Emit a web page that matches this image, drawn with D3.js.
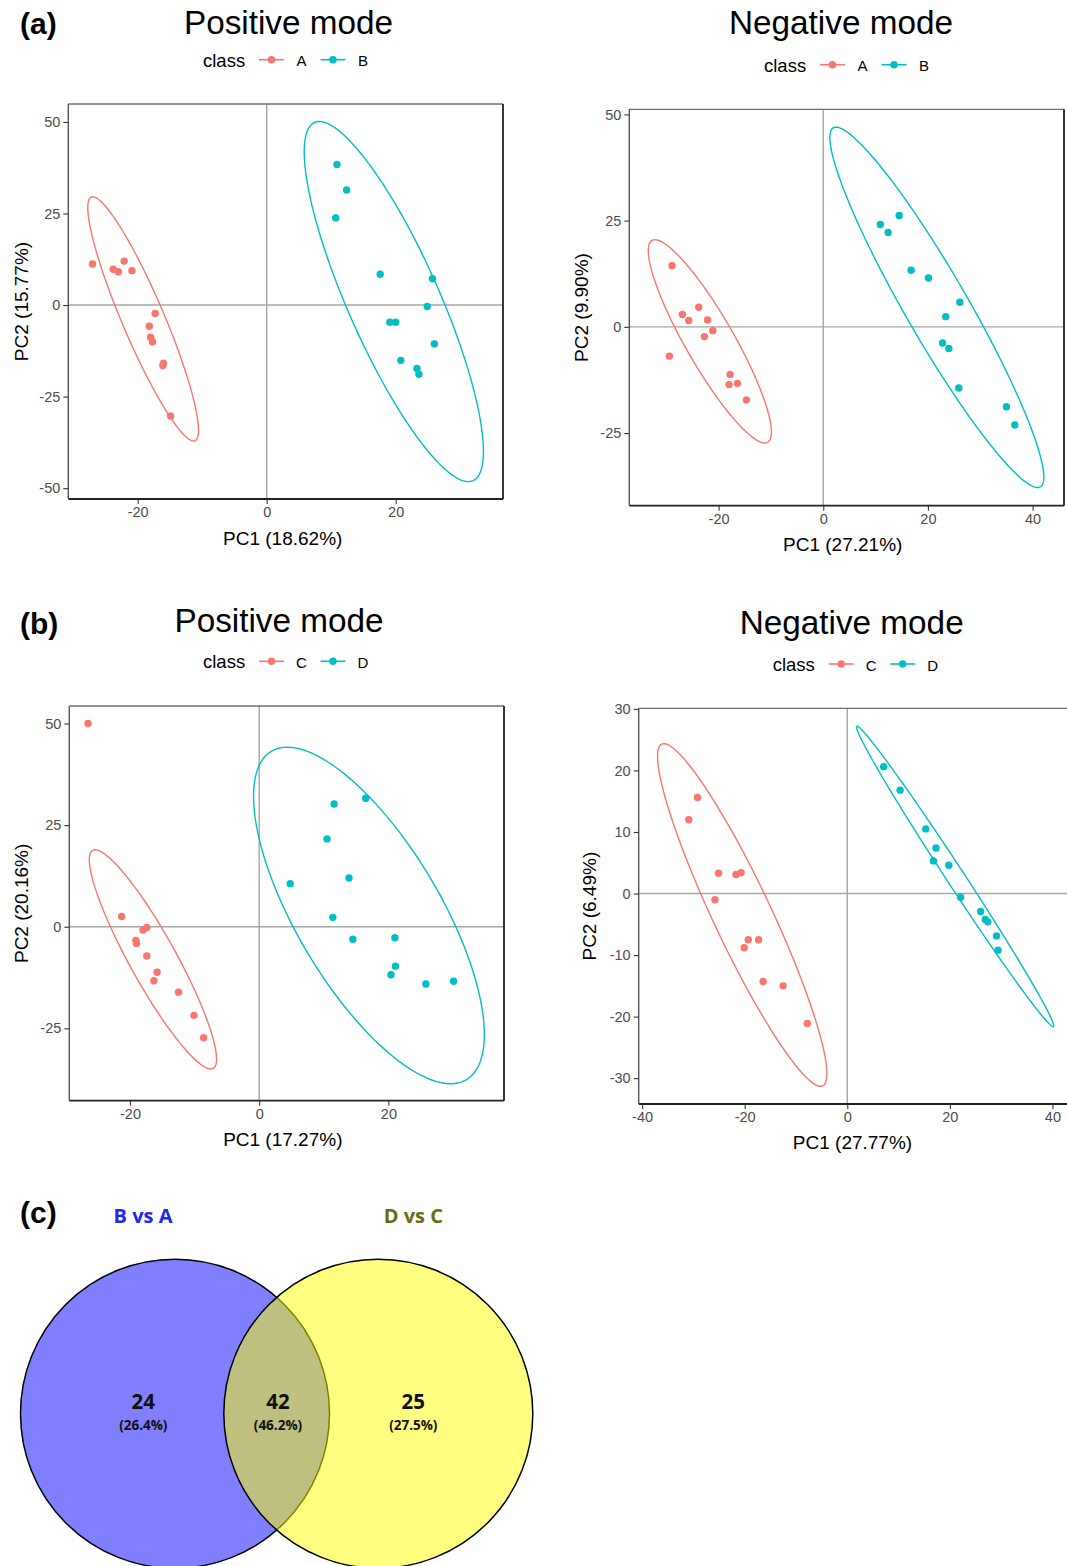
<!DOCTYPE html>
<html>
<head>
<meta charset="utf-8">
<script src="https://cdn.jsdelivr.net/npm/d3@7"></script>
<style>
body { margin: 0; background: #fff; }
text { font-family: "Liberation Sans", Arial, sans-serif; }
</style>
</head>
<body>
<div id="graph"></div>
<script>
var w = 1067, h = 1566;

// (a) positive mode, PC1 / PC2 scores
var posA = [[-27.0,11.2],[-23.8,9.8],[-23.0,9.1],[-22.1,12.0],[-20.9,9.4],[-17.3,-2.3],
	[-18.2,-5.8],[-18.0,-8.8],[-17.7,-10.0],[-16.0,-15.9],[-16.1,-16.5],[-14.9,-30.3]];
var posB = [[10.9,38.4],[12.4,31.4],[10.7,23.8],[17.6,8.4],[25.7,7.2],[24.9,-0.4],
	[19.1,-4.7],[20.0,-4.7],[26.0,-10.6],[20.8,-15.1],[23.3,-17.3],[23.6,-18.9]];
// (a) negative mode
var negA = [[-28.9,14.4],[-26.9,2.9],[-25.7,1.5],[-23.8,4.6],[-22.1,1.6],[-21.1,-0.9],
	[-22.7,-2.3],[-29.4,-6.9],[-17.8,-11.2],[-18.0,-13.6],[-16.4,-13.3],[-14.7,-17.2]];
var negB = [[10.9,24.1],[12.4,22.2],[14.5,26.2],[16.8,13.3],[20.1,11.5],[26.1,5.8],
	[23.4,2.4],[22.8,-3.8],[24.0,-5.1],[25.9,-14.4],[35.0,-18.8],[36.6,-23.1]];
// (b) positive mode
var posC = [[-26.5,50.0],[-21.3,2.5],[-18.0,-0.8],[-17.4,-0.2],[-19.1,-3.4],[-19.0,-4.1],
	[-17.4,-7.2],[-15.8,-11.2],[-16.3,-13.3],[-12.5,-16.1],[-10.1,-21.8],[-8.6,-27.3]];
var posD = [[11.6,30.2],[16.5,31.6],[10.5,21.6],[4.8,10.6],[13.9,12.0],[11.4,2.3],
	[14.5,-3.1],[21.0,-2.7],[21.1,-9.7],[20.4,-11.8],[25.8,-14.1],[30.1,-13.4]];
// (b) negative mode
var negC = [[-29.2,15.6],[-30.9,12.0],[-25.1,3.3],[-21.7,3.1],[-20.7,3.4],[-25.8,-1.0],
	[-19.3,-7.5],[-17.3,-7.5],[-20.1,-8.8],[-16.4,-14.3],[-12.5,-15.0],[-7.8,-21.1]];
var negD = [[7.1,20.6],[10.3,16.8],[15.3,10.5],[17.3,7.4],[16.8,5.3],[19.8,4.6],
	[22.1,-0.6],[26.0,-2.9],[26.9,-4.2],[27.4,-4.6],[29.1,-6.9],[29.4,-9.2]];

var ticksA1x = [-20, 0, 20], ticksA1y = [-50, -25, 0, 25, 50];
var ticksA2x = [-20, 0, 20, 40], ticksA2y = [-25, 0, 25, 50];
var ticksB1x = [-20, 0, 20], ticksB1y = [-25, 0, 25, 50];
var ticksB2x = [-40, -20, 0, 20, 40], ticksB2y = [-30, -20, -10, 0, 10, 20, 30];

// (c) venn
var vennNames = ["B vs A", "D vs C"];
var vennCounts = [24, 42, 25];

var red = "#F8766D", teal = "#00BFC4";

var svg = d3.select("#graph")
	.append("svg")
	.attr("width", w)
	.attr("height", h);

// robust t covariance like MASS::cov.trob, used by stat_ellipse
function covTrob(pts) {
	var n = pts.length, nu = 5, p = 2;
	var loc = [d3.mean(pts, function(d) { return d[0]; }), d3.mean(pts, function(d) { return d[1]; })];
	var wt = pts.map(function() { return 1; });
	var X;
	for (var it = 0; it < 25; it++) {
		var w0 = wt.slice();
		X = pts.map(function(d) { return [d[0] - loc[0], d[1] - loc[1]]; });
		var sw = d3.sum(wt), a = 0, b = 0, c = 0;
		X.forEach(function(v, i) {
			a += wt[i] * v[0] * v[0] / sw;
			b += wt[i] * v[0] * v[1] / sw;
			c += wt[i] * v[1] * v[1] / sw;
		});
		var det = a * c - b * b;
		wt = X.map(function(v) {
			var q = (c * v[0] * v[0] - 2 * b * v[0] * v[1] + a * v[1] * v[1]) / det;
			return (nu + p) / (nu + q);
		});
		var s2 = d3.sum(wt);
		loc = [d3.sum(pts, function(d, i) { return wt[i] * d[0]; }) / s2,
			d3.sum(pts, function(d, i) { return wt[i] * d[1]; }) / s2];
		if (d3.max(wt, function(v, i) { return Math.abs(v - w0[i]); }) < 0.01) break;
	}
	var A = 0, B = 0, C = 0;
	X.forEach(function(v, i) {
		A += wt[i] * v[0] * v[0];
		B += wt[i] * v[0] * v[1];
		C += wt[i] * v[1] * v[1];
	});
	return { loc: loc, cov: [A / n, B / n, C / n] };
}

function ellipse(pts) {
	var t = covTrob(pts);
	var m = pts.length - 1;
	var f = (m / 2) * (Math.pow(0.05, -2 / m) - 1); // qf(0.95, 2, m)
	var r = Math.sqrt(2 * f);
	var r11 = Math.sqrt(t.cov[0]), r12 = t.cov[1] / r11, r22 = Math.sqrt(t.cov[2] - r12 * r12);
	return d3.range(121).map(function(k) {
		var th = 2 * Math.PI * k / 120, c = Math.cos(th), s = Math.sin(th);
		return [t.loc[0] + r * c * r11, t.loc[1] + r * (c * r12 + s * r22)];
	});
}

function legend(g, cx, by, labs) {
	g.append("text").text("class").attr("x", cx).attr("y", by)
		.attr("font-size", 18.5).attr("fill", "#000");
	[[56, red, labs[0], 98.5], [117.5, teal, labs[1], 160]].forEach(function(k) {
		g.append("line").attr("x1", cx + k[0]).attr("x2", cx + k[0] + 25)
			.attr("y1", by - 7).attr("y2", by - 7)
			.attr("stroke", k[1]).attr("stroke-width", 1.6);
		g.append("circle").attr("cx", cx + k[0] + 12.5).attr("cy", by - 7).attr("r", 3.7).attr("fill", k[1]);
		g.append("text").text(k[2]).attr("x", cx + k[3]).attr("y", by - 0.5)
			.attr("text-anchor", "middle").attr("font-size", 15).attr("fill", "#000");
	});
}

function panel(o) {
	var g = svg.append("g");
	var x = d3.scaleLinear().domain(o.xd).range([o.x0, o.x1]);
	var y = d3.scaleLinear().domain(o.yd).range([o.y1, o.y0]);
	var id = "clip" + o.id;
	svg.append("clipPath").attr("id", id).append("rect")
		.attr("x", o.x0).attr("y", o.y0).attr("width", o.x1 - o.x0).attr("height", o.y1 - o.y0);
	var inner = g.append("g").attr("clip-path", "url(#" + id + ")");

	inner.append("line").attr("x1", x(0)).attr("x2", x(0)).attr("y1", o.y0).attr("y2", o.y1)
		.attr("stroke", "#a6a6a6").attr("stroke-width", 1.4);
	inner.append("line").attr("x1", o.x0).attr("x2", o.x1).attr("y1", y(0)).attr("y2", y(0))
		.attr("stroke", "#a6a6a6").attr("stroke-width", 1.4);

	var line = d3.line().x(function(d) { return x(d[0]); }).y(function(d) { return y(d[1]); });
	[[o.g1, red], [o.g2, teal]].forEach(function(s) {
		inner.append("path").attr("d", line(ellipse(s[0])))
			.attr("fill", "none").attr("stroke", s[1]).attr("stroke-width", 1.4);
		inner.selectAll(null).data(s[0]).enter().append("circle")
			.attr("cx", function(d) { return x(d[0]); })
			.attr("cy", function(d) { return y(d[1]); })
			.attr("r", 3.7).attr("fill", s[1]);
	});

	// frame
	g.append("line").attr("x1", o.x0).attr("x2", o.x1).attr("y1", o.y0).attr("y2", o.y0)
		.attr("stroke", "#6e6e6e").attr("stroke-width", 1.3);
	g.append("line").attr("x1", o.x1).attr("x2", o.x1).attr("y1", o.y0).attr("y2", o.y1)
		.attr("stroke", "#222").attr("stroke-width", 1.8);

	var ax = g.append("g").attr("transform", "translate(0," + o.y1 + ")")
		.call(d3.axisBottom(x).tickValues(o.xt).tickSize(5).tickPadding(3)
			.tickFormat(function(d) { return String(d); }));
	var ay = g.append("g").attr("transform", "translate(" + o.x0 + ",0)")
		.call(d3.axisLeft(y).tickValues(o.yt).tickSize(5).tickPadding(3)
			.tickFormat(function(d) { return String(d); }));
	ax.select(".domain").attr("d", "M" + o.x0 + ",0H" + o.x1).attr("stroke", "#222").attr("stroke-width", 1.8);
	ay.select(".domain").attr("d", "M0," + o.y0 + "V" + o.y1).attr("stroke", "#555").attr("stroke-width", 1.4);
	[ax, ay].forEach(function(a) {
		a.selectAll(".tick line").attr("stroke", "#333").attr("stroke-width", 1.1);
		a.selectAll(".tick text").attr("fill", "#4d4d4d").attr("font-size", 14.5)
			.attr("font-family", "Liberation Sans, Arial, sans-serif");
	});

	g.append("text").text(o.xlab).attr("x", o.xlx).attr("y", o.xly)
		.attr("text-anchor", "middle").attr("font-size", 19);
	g.append("text").text(o.ylab)
		.attr("transform", "translate(" + o.ylx + "," + (o.y0 + o.y1) / 2 + ") rotate(-90)")
		.attr("text-anchor", "middle").attr("font-size", 19);

	g.append("text").text(o.title).attr("x", o.tx).attr("y", o.ty)
		.attr("text-anchor", "middle").attr("font-size", 33.3);
	legend(g, o.lx, o.ly, o.labs);
}

panel({ id: 1, x0: 68.3, x1: 503, y0: 104, y1: 499, xd: [-30.76, 36.64], yd: [-52.95, 54.9],
	g1: posA, g2: posB, xt: ticksA1x, yt: ticksA1y,
	xlab: "PC1 (18.62%)", xlx: 282.7, xly: 545, ylab: "PC2 (15.77%)", ylx: 27.5,
	title: "Positive mode", tx: 288.5, ty: 33.5, lx: 203, ly: 66.7, labs: ["A", "B"] });
panel({ id: 2, x0: 629.3, x1: 1064, y0: 109.3, y1: 505.7, xd: [-37.06, 46.0], yd: [-42.1, 51.2],
	g1: negA, g2: negB, xt: ticksA2x, yt: ticksA2y,
	xlab: "PC1 (27.21%)", xlx: 842.7, xly: 551, ylab: "PC2 (9.90%)", ylx: 588,
	title: "Negative mode", tx: 841, ty: 33.5, lx: 764, ly: 71.7, labs: ["A", "B"] });
panel({ id: 3, x0: 69.3, x1: 504, y0: 706, y1: 1100.7, xd: [-29.4, 37.9], yd: [-42.8, 54.3],
	g1: posC, g2: posD, xt: ticksB1x, yt: ticksB1y,
	xlab: "PC1 (17.27%)", xlx: 282.8, xly: 1146, ylab: "PC2 (20.16%)", ylx: 27.5,
	title: "Positive mode", tx: 279, ty: 632.3, lx: 203, ly: 668.3, labs: ["C", "D"] });
panel({ id: 4, x0: 638.7, x1: 1075, y0: 708.3, y1: 1104, xd: [-40.66, 44.4], yd: [-34.2, 30.1],
	g1: negC, g2: negD, xt: ticksB2x, yt: ticksB2y,
	xlab: "PC1 (27.77%)", xlx: 852.5, xly: 1149, ylab: "PC2 (6.49%)", ylx: 596,
	title: "Negative mode", tx: 851.7, ty: 634.3, lx: 772.7, ly: 671, labs: ["C", "D"] });

// panel letters
[["(a)", 20, 33.5], ["(b)", 20, 634], ["(c)", 20, 1223]].forEach(function(l) {
	svg.append("text").text(l[0]).attr("x", l[1]).attr("y", l[2])
		.attr("font-size", 30).attr("font-weight", "bold");
});

// venn
var venn = svg.append("g");
var vr = 154.5, vy = 1413.7, vx = [175, 378.3];
venn.selectAll("circle").data(vennNames).enter().append("circle")
	.attr("cx", function(d, i) { return vx[i]; })
	.attr("cy", vy).attr("r", vr)
	.attr("fill", function(d, i) { return i ? "#ffff00" : "#0000ff"; })
	.attr("fill-opacity", 0.5)
	.attr("stroke", "#000").attr("stroke-width", 1.5);
venn.selectAll("text.set").data(vennNames).enter().append("text")
	.attr("class", "set")
	.text(function(d) { return d; })
	.attr("x", function(d, i) { return i ? 413.3 : 143; })
	.attr("y", 1222.7)
	.attr("text-anchor", "middle")
	.attr("font-weight", "bold")
	.attr("font-size", 20)
	.attr("fill", function(d, i) { return i ? "#6b6b14" : "#2424f0"; })
	.style("font-family", "Open Sans");

var total = d3.sum(vennCounts);
var cxs = [143.3, 278, 413.3];
vennCounts.forEach(function(v, i) {
	venn.append("text").text(v).attr("x", cxs[i]).attr("y", 1409)
		.attr("text-anchor", "middle").attr("font-weight", "bold").attr("font-size", 20.5)
		.style("font-family", "Open Sans").attr("fill", "#111");
	venn.append("text").text("(" + (v / total * 100).toFixed(1) + "%)").attr("x", cxs[i]).attr("y", 1430)
		.attr("text-anchor", "middle").attr("font-weight", "bold").attr("font-size", 13.5)
		.style("font-family", "Open Sans").attr("fill", "#111");
});
</script>
</body>
</html>
